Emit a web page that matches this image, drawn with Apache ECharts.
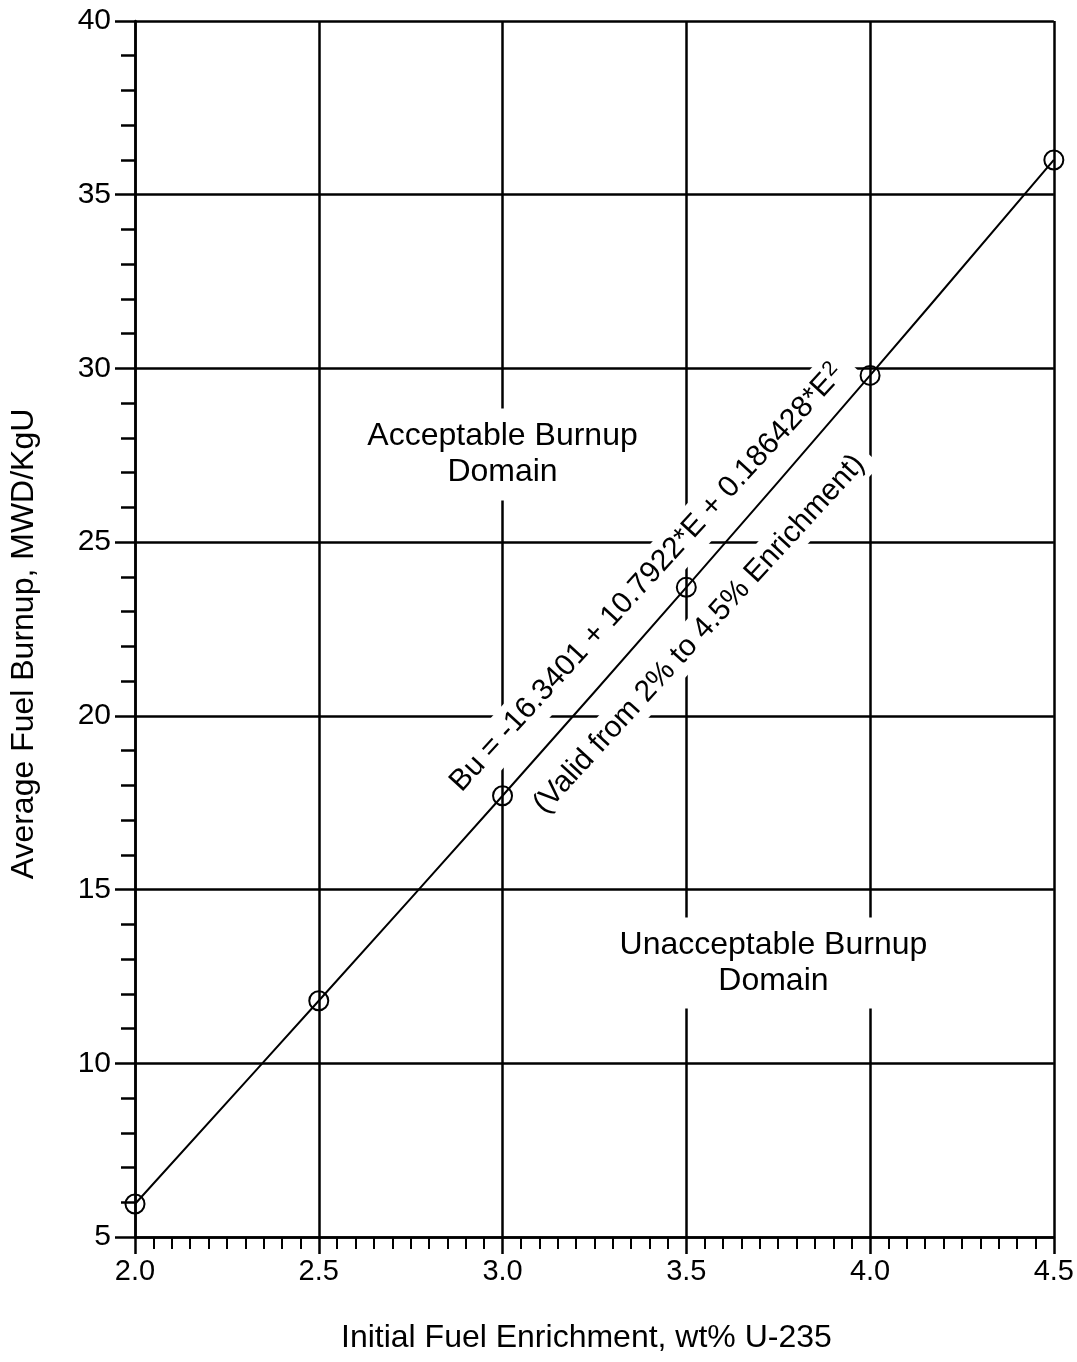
<!DOCTYPE html>
<html><head><meta charset="utf-8">
<script src="https://cdn.jsdelivr.net/npm/echarts@6/dist/echarts.min.js"></script>
<style>html,body{margin:0;padding:0;background:#fff;}#chart{width:1077px;height:1362px;}</style>
</head><body><div id="chart"></div>
<script>
// ---- data ----
const enrichment = [2.0, 2.5, 3.0, 3.5, 4.0, 4.5];
const burnup = [5.95, 11.8, 17.7, 23.7, 29.8, 36.0];
const xAxisTitle = 'Initial Fuel Enrichment, wt% U-235';
const yAxisTitle = 'Average Fuel Burnup, MWD/KgU';
const formulaText = 'Bu = -16.3401 + 10.7922*E + 0.186428*E{sup|2}';
const validText = '(Valid from 2% to 4.5% Enrichment)';
const acceptText = 'Acceptable Burnup\nDomain';
const unacceptText = 'Unacceptable Burnup\nDomain';

const FONT = "'Liberation Sans', Arial, Helvetica, sans-serif";
const chart = echarts.init(document.getElementById('chart'), null, {renderer: 'canvas'});

const gridLine = {show: true, lineStyle: {color: '#000', width: 2.5}};
chart.setOption({
  backgroundColor: '#fff',
  animation: false,
  grid: {left: 134, right: 23, top: 21, bottom: 125, containLabel: false},
  xAxis: {
    type: 'value', min: 2.0, max: 4.5, interval: 0.5,
    name: xAxisTitle, nameLocation: 'middle', nameGap: 85,
    nameTextStyle: {fontFamily: FONT, fontSize: 32, color: '#000', padding: [0, 16, 0, 0]},
    axisLine: {show: true, onZero: false, lineStyle: {color: '#000', width: 2.5}},
    axisTick: {show: true, inside: false, length: 17, lineStyle: {color: '#000', width: 2.5}},
    minorTick: {show: true, splitNumber: 10, length: 12, lineStyle: {color: '#000', width: 2}},
    axisLabel: {fontFamily: FONT, fontSize: 29, color: '#000', margin: 20,
      formatter: v => v.toFixed(1)},
    splitLine: gridLine
  },
  yAxis: {
    type: 'value', min: 5, max: 40, interval: 5,
    name: yAxisTitle, nameLocation: 'middle', nameGap: 95, nameRotate: 90,
    nameTextStyle: {fontFamily: FONT, fontSize: 32, color: '#000', padding: [0, 30, 0, 0]},
    axisLine: {show: true, onZero: false, lineStyle: {color: '#000', width: 2.5}},
    axisTick: {show: true, inside: false, length: 20, lineStyle: {color: '#000', width: 2.5}},
    minorTick: {show: true, splitNumber: 5, length: 14, lineStyle: {color: '#000', width: 2.5}},
    axisLabel: {fontFamily: FONT, fontSize: 30, color: '#000', margin: 24},
    splitLine: gridLine
  },
  series: [{
    type: 'line',
    data: enrichment.map((e, i) => [e, burnup[i]]),
    smooth: 0.4,
    symbol: 'circle', symbolSize: 19,
    lineStyle: {color: '#000', width: 2},
    itemStyle: {color: 'rgba(0,0,0,0)', borderColor: '#000', borderWidth: 2},
    z: 3
  }]
});

function px(x, y) { return chart.convertToPixel({gridIndex: 0}, [x, y]); }
const rot = 47.5 * Math.PI / 180;
const a = px(3.0, 27.52);
const u = px(3.737, 12.89);
const f1 = px(3.395, 23.95);
const f2 = px(3.535, 22.35);
chart.setOption({
  graphic: [
    {type: 'text', x: a[0], y: a[1], z: 1,
      style: {text: acceptText, fontFamily: FONT, fontSize: 32, lineHeight: 36, fill: '#000',
        align: 'center', verticalAlign: 'middle', backgroundColor: '#fff', padding: [16, 8, 4, 8]}},
    {type: 'text', x: u[0], y: u[1], z: 1,
      style: {text: unacceptText, fontFamily: FONT, fontSize: 32, lineHeight: 36, fill: '#000',
        align: 'center', verticalAlign: 'middle', backgroundColor: '#fff', padding: [10, 8, 9, 8]}},
    {type: 'text', x: f1[0], y: f1[1], z: 1, rotation: rot,
      style: {text: formulaText, fontFamily: FONT, fontSize: 30, fill: '#000',
        align: 'center', verticalAlign: 'middle', backgroundColor: '#fff', padding: [4, 12, 6, 12],
        rich: {sup: {fontFamily: FONT, fontSize: 21, verticalAlign: 'top', fill: '#000', padding: [0, 0, 12, 1]}}}},
    {type: 'text', x: f2[0], y: f2[1], z: 1, rotation: rot,
      style: {text: validText, fontFamily: FONT, fontSize: 30, fill: '#000',
        align: 'center', verticalAlign: 'middle', backgroundColor: '#fff', padding: [4, 10, 4, 10]}}
  ]
});
</script></body></html>
